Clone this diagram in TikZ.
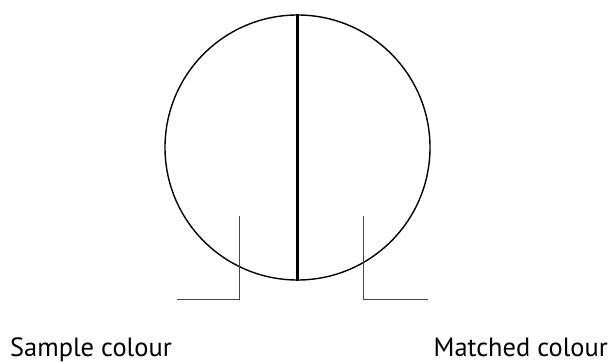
\documentclass[tikz,border=0pt]{standalone}
\usepackage{fontspec}
\setmainfont{PT Sans}
\usepackage{xcolor}
\usetikzlibrary{positioning,calc}
\definecolor{LeaderGray}{RGB}{70,70,70}

\begin{document}
\begin{tikzpicture}[x=1pt,y=-1pt,
    leader/.style={draw=LeaderGray, line width=0.9pt},
    caption/.style={font=\fontsize{26.4}{30}\selectfont, inner sep=0pt}]
\useasboundingbox (0,0) rectangle (612,363);
% split field
\node[draw, circle, line width=1.4pt, minimum size=265pt, inner sep=0pt] (field) at (297.5,147.5) {};
\draw[line width=2.6pt] (field.north) -- (field.south);
% leader ends
\coordinate (sampleTop) at (239,216);
\coordinate (sampleCorner) at (239,299);
\coordinate (sampleEnd) at (177,299);
\coordinate (matchTop) at (363,216);
\coordinate (matchCorner) at (363,299);
\coordinate (matchEnd) at (428,299);
\draw[leader] (sampleTop) -- (sampleCorner) -- (sampleEnd);
\draw[leader] (matchTop) -- (matchCorner) -- (matchEnd);
% captions
\node[caption, anchor=base west] (sample) at (10,356.5) {Sample colour};
\node[caption, anchor=base east] (matched) at (608,356.5) {Matched colour};
\end{tikzpicture}
\end{document}
